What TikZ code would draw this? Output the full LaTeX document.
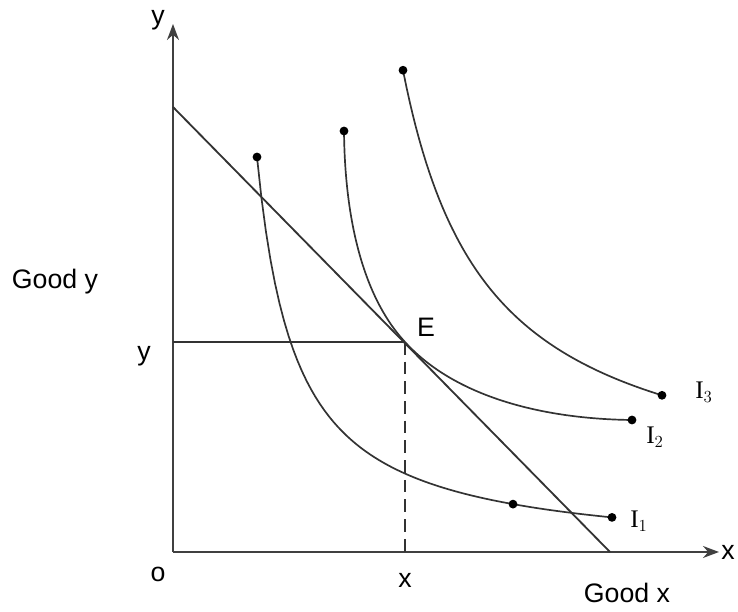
\documentclass[tikz,border=0pt]{standalone}
\usepackage{fontspec}
\setmainfont{Liberation Sans}
\newfontfamily\serifI{Liberation Serif}
\usetikzlibrary{arrows.meta}

\begin{document}
\begin{tikzpicture}[
      x=0.025cm, y=0.025cm,
      font=\fontsize{19}{22}\selectfont,
      ax/.style={line width=1.3pt, black!75, -{Stealth[length=4mm, width=3mm]}},
      ln/.style={line width=1.3pt, black!80},
      crv/.style={line width=1.2pt, black!80},
      dot/.style={circle, fill=black, inner sep=0pt, minimum size=0.22cm},
      il/.style={font=\serifI\fontsize{18}{20}\selectfont},
    ]
    \useasboundingbox (-173,-60) rectangle (565,552);
    % axes
    \coordinate (o)    at (0,0);
    \coordinate (ytop) at (0,528);
    \coordinate (xend) at (546,0);
    \draw[ax] (o) -- (ytop);
    \draw[ax] (o) -- (xend);
    \node (ylab) at (-15,532) {y};
    \node (xlab) at (555,0)   {x};
    \node (olab) at (-15,-22) {o};
    \node (gy)   at (-118,270) {Good y};
    \node (gx)   at (454,-41)  {Good x};
    % budget line and equilibrium
    \coordinate (ba) at (0,445);
    \coordinate (bb) at (437,0);
    \coordinate (E)  at (232,210);
    \coordinate (ey) at (0,210);
    \coordinate (ex) at (232,0);
    \draw[ln] (ba) -- (bb);
    \draw[ln] (ey) -- (E);
    \draw[ln, dashed, dash pattern=on 9pt off 5pt] (E) -- (ex);
    \node (Elab)  at (253,225) {E};
    \node (yval)  at (-29,196) {y};
    \node (xval)  at (232,-28) {x};
    % indifference curves
    \draw[crv] plot[domain=84:439, samples=80] (\x, {156/(\x-45)*100-5});
    \draw[crv] (171,421) .. controls (172,320) and (195,250) .. (E)
                         .. controls (282,155) and (370,133) .. (459,132);
    \draw[crv] plot[domain=230:489, samples=80] (\x, {367/(\x-145)*100+50});
    \node[dot] (a1) at (84,395) {};
    \node[dot] (m1) at (340,{156/295*100-5}) {};
    \node[dot] (e1) at (439,{156/394*100-5}) {};
    \node[dot] (a2) at (171,421) {};
    \node[dot] (e2) at (459,132) {};
    \node[dot] (a3) at (230,{367/85*100+50}) {};
    \node[dot] (e3) at (489,{367/344*100+50}) {};
    \node[il] (i1) at (466,31)  {I$_1$};
    \node[il] (i2) at (482,115) {I$_2$};
    \node[il] (i3) at (531,160) {I$_3$};
  \end{tikzpicture}
\end{document}
